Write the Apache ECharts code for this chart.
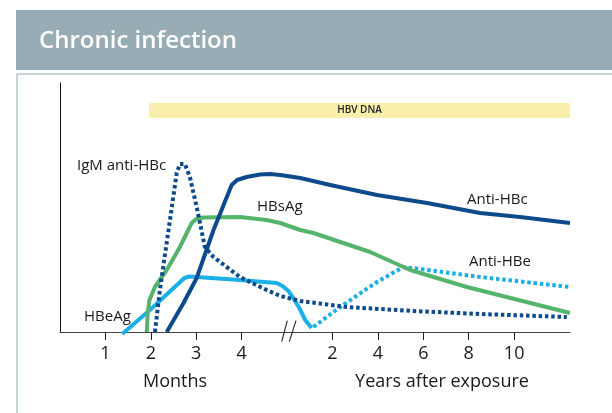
<!DOCTYPE html>
<html>
<head>
<meta charset="utf-8">
<script src="https://cdn.jsdelivr.net/npm/echarts@6/dist/echarts.min.js"></script>
<style>
  html, body { margin: 0; padding: 0; background: #fff; }
  #chart { width: 612px; height: 413px; }
</style>
</head>
<body>
<div id="chart"></div>
<script>
// x positions are axis units: months 1-4 -> 1..4, years 2-10 -> 6..10
var tickPos = [1, 2, 3, 4, 6, 7, 8, 9, 10];
var tickLabels = ['1', '2', '3', '4', '2', '4', '6', '8', '10'];

// [x, level]
var hbeag = [[1.37, -2], [1.98, 22], [2.74, 54], [2.85, 55.5], [3.01, 55], [3.96, 52], [4.77, 49], [4.90, 46], [5.03, 41], [5.15, 33], [5.27, 24], [5.40, 12], [5.54, 4]];
var antiHbe = [[5.58, 5], [6.17, 25], [6.98, 50], [7.56, 65], [7.93, 63], [9.25, 55], [11.23, 45]];
var antiHbc = [[2.35, 0], [2.72, 29], [3.01, 54], [3.38, 102], [3.78, 147], [3.90, 152], [4.11, 155], [4.40, 157.5], [4.63, 158], [4.85, 157], [5.29, 154], [5.95, 147], [6.98, 137], [8.08, 129], [9.25, 119], [10.13, 115], [11.23, 109]];
var igmAntiHbc = [[2.09, 0], [2.20, 42], [2.39, 102], [2.57, 159], [2.64, 168], [2.75, 168], [2.86, 155], [3.01, 125], [3.19, 85], [3.38, 75], [3.96, 55], [4.55, 42], [4.85, 36], [5.29, 31], [6.31, 25], [7.78, 21], [9.25, 18], [11.16, 15]];
var hbsag = [[1.91, 0], [1.93, 18], [1.97, 32], [2.09, 45], [2.35, 62], [2.64, 85], [2.90, 109], [3.00, 113], [3.15, 114.5], [3.96, 115], [4.55, 112], [4.85, 109], [5.29, 102], [5.58, 99], [6.83, 80], [7.71, 62], [8.96, 45], [11.23, 19]];
var dnaRange = [1.96, 11.23];
var dnaLevel = [214, 229];

var navy = '#0c4a8c';
var green = '#55b46c';
var sky = '#1aafe6';
var fontMain = '"Open Sans", "Noto Sans", sans-serif';

var myChart = echarts.init(document.getElementById('chart'));

function lineSeries(name, data, color, dotted, z) {
  return {
    name: name,
    type: 'line',
    data: data,
    showSymbol: false,
    smooth: false,
    clip: false,
    z: z,
    lineStyle: {
      color: color,
      width: 4,
      type: dotted ? [3.5, 2.8] : 'solid',
      cap: 'butt',
      join: 'round'
    },
    silent: true
  };
}

var option = {
  animation: false,
  grid: { left: 60, top: 83, width: 510, height: 249 },
  xAxis: {
    type: 'value',
    min: 0,
    max: 11.23,
    splitLine: { show: false },
    axisLine: { lineStyle: { color: '#444', width: 1.2 } },
    axisTick: {
      customValues: tickPos,
      length: 8,
      lineStyle: { color: '#222', width: 1 }
    },
    axisLabel: {
      customValues: tickPos,
      margin: 13,
      color: '#1a1a1a',
      fontSize: 18,
      fontFamily: fontMain,
      formatter: function (v) {
        var i = tickPos.indexOf(v);
        return i >= 0 ? tickLabels[i] : '';
      }
    }
  },
  yAxis: {
    type: 'value',
    min: 0,
    max: 249,
    splitLine: { show: false },
    axisTick: { show: false },
    axisLabel: { show: false },
    axisLine: { show: true, lineStyle: { color: '#111', width: 1 } }
  },
  series: [
    {
      type: 'line',
      data: [],
      markArea: {
        silent: true,
        itemStyle: { color: '#faeead' },
        label: {
          show: true,
          position: 'inside',
          color: '#222',
          fontSize: 10,
          fontWeight: 600,
          fontFamily: fontMain
        },
        data: [[
          { name: 'HBV DNA', xAxis: dnaRange[0], yAxis: dnaLevel[0] },
          { xAxis: dnaRange[1], yAxis: dnaLevel[1] }
        ]]
      }
    },
    lineSeries('HBeAg', hbeag, sky, false, 2),
    lineSeries('Anti-HBe', antiHbe, sky, true, 2),
    lineSeries('HBsAg', hbsag, green, false, 3),
    lineSeries('IgM anti-HBc', igmAntiHbc, navy, true, 4),
    lineSeries('Anti-HBc', antiHbc, navy, false, 5)
  ],
  graphic: [
    { type: 'rect', shape: { x: 16, y: 10, width: 596, height: 60 }, style: { fill: '#98acb6' }, silent: true },
    { type: 'line', shape: { x1: 17, y1: 74, x2: 612, y2: 74 }, style: { stroke: '#b3c4cd', lineWidth: 1.5 }, silent: true },
    { type: 'line', shape: { x1: 17, y1: 74, x2: 17, y2: 413 }, style: { stroke: '#b3c4cd', lineWidth: 1.5 }, silent: true },
    { type: 'text', x: 39, y: 41, style: { text: 'Chronic infection', fill: '#fff', font: '600 24px ' + fontMain, textVerticalAlign: 'middle' }, silent: true },
    { type: 'text', x: 77, y: 166, style: { text: 'IgM anti-HBc', fill: '#1a1a1a', font: '15px ' + fontMain, textVerticalAlign: 'middle' }, silent: true },
    { type: 'text', x: 257, y: 207, style: { text: 'HBsAg', fill: '#1a1a1a', font: '15px ' + fontMain, textVerticalAlign: 'middle' }, silent: true },
    { type: 'text', x: 467, y: 200, style: { text: 'Anti-HBc', fill: '#1a1a1a', font: '15px ' + fontMain, textVerticalAlign: 'middle' }, silent: true },
    { type: 'text', x: 469, y: 262, style: { text: 'Anti-HBe', fill: '#1a1a1a', font: '15px ' + fontMain, textVerticalAlign: 'middle' }, silent: true },
    { type: 'text', x: 84, y: 317, style: { text: 'HBeAg', fill: '#1a1a1a', font: '15px ' + fontMain, textVerticalAlign: 'middle' }, silent: true },
    { type: 'text', x: 175, y: 382, style: { text: 'Months', fill: '#1a1a1a', font: '18px ' + fontMain, textAlign: 'center', textVerticalAlign: 'middle' }, silent: true },
    { type: 'text', x: 442, y: 382, style: { text: 'Years after exposure', fill: '#1a1a1a', font: '18px ' + fontMain, textAlign: 'center', textVerticalAlign: 'middle' }, silent: true },
    // axis break
    { type: 'line', shape: { x1: 281.7, y1: 341.7, x2: 287.3, y2: 320.7 }, style: { stroke: '#222', lineWidth: 1.1 }, silent: true, z: 10 },
    { type: 'line', shape: { x1: 289.3, y1: 341.7, x2: 296, y2: 320.7 }, style: { stroke: '#222', lineWidth: 1.1 }, silent: true, z: 10 }
  ]
};
myChart.setOption(option);
</script>
</body>
</html>
